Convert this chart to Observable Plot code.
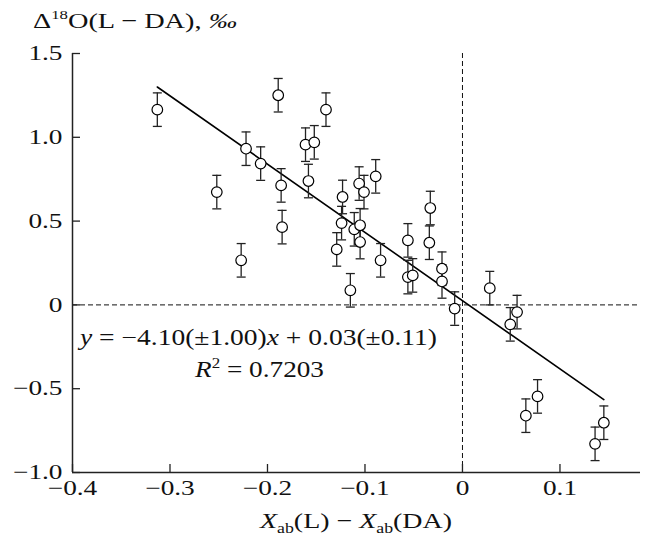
<!DOCTYPE html>
<html><head><meta charset="utf-8">
<script src="https://cdn.jsdelivr.net/npm/d3@7"></script>
<script src="https://cdn.jsdelivr.net/npm/@observablehq/plot@0.6"></script>
<style>body{margin:0;background:#fff;}</style>
</head><body><div id="chart"></div>
<script>
// data
const xDiff = [-0.313, -0.252, -0.227, -0.222, -0.207, -0.189, -0.186, -0.185, -0.161, -0.158, -0.152, -0.140, -0.129, -0.124, -0.123, -0.115, -0.111, -0.106, -0.105, -0.105, -0.101, -0.089, -0.084, -0.056, -0.056, -0.051, -0.033, -0.034, -0.021, -0.021, -0.008, 0.028, 0.049, 0.056, 0.065, 0.077, 0.136, 0.145];
const d18O = [1.165, 0.673, 0.266, 0.932, 0.843, 1.251, 0.713, 0.464, 0.956, 0.739, 0.970, 1.165, 0.331, 0.488, 0.644, 0.087, 0.451, 0.724, 0.475, 0.375, 0.673, 0.767, 0.266, 0.385, 0.166, 0.176, 0.578, 0.371, 0.216, 0.140, -0.022, 0.100, -0.116, -0.043, -0.661, -0.546, -0.829, -0.703];
const errBar = [0.1, 0.1, 0.1, 0.1, 0.1, 0.1, 0.1, 0.1, 0.1, 0.1, 0.1, 0.1, 0.1, 0.1, 0.1, 0.1, 0.1, 0.1, 0.1, 0.1, 0.1, 0.1, 0.1, 0.1, 0.1, 0.1, 0.1, 0.1, 0.1, 0.1, 0.1, 0.1, 0.1, 0.1, 0.1, 0.1, 0.1, 0.1];
const fitX = [-0.313, 0.145];
const fitY = [1.30, -0.565];
const xTicks = [-0.4, -0.3, -0.2, -0.1, 0, 0.1];
const yTicks = [-1, -0.5, 0, 0.5, 1, 1.5];

const pts = xDiff.map((x, i) => ({x, y: d18O[i], lo: d18O[i] - errBar[i], hi: d18O[i] + errBar[i]}));
const fit = fitX.map((x, i) => ({x, y: fitY[i]}));
const fmt = d => d === 0 ? "0" : d3.format(".1f")(d);
const capSymbol = {draw(ctx, size) { const r = Math.sqrt(size / Math.PI); ctx.moveTo(-r, 0); ctx.lineTo(r, 0); }};

const plot = Plot.plot({
  width: 646, height: 538,
  marginLeft: 72, marginRight: 6, marginTop: 53, marginBottom: 66,
  style: {fontFamily: "'Liberation Serif', 'Times New Roman', serif", fontSize: "21px", background: "#fff", color: "#111"},
  x: {domain: [-0.4, 0.1826]},
  y: {domain: [-1, 1.5]},
  marks: [
    Plot.ruleY([0], {strokeDasharray: "5,3", stroke: "#111"}),
    Plot.ruleX([0], {strokeDasharray: "5,3", stroke: "#111"}),
    Plot.ruleX([-0.4], {stroke: "#222", strokeWidth: 1.5}),
    Plot.ruleY([-1], {stroke: "#222", strokeWidth: 1.5}),
    Plot.axisX({ticks: xTicks, tickFormat: fmt, tickSize: -8, tickPadding: 16, label: null, stroke: "#222", strokeWidth: 1.3}),
    Plot.axisY({ticks: yTicks, tickFormat: fmt, tickSize: -8, tickPadding: 18, label: null, stroke: "#222", strokeWidth: 1.3}),
    Plot.line(fit, {x: "x", y: "y", stroke: "#000", strokeWidth: 1.6}),
    Plot.ruleX(pts, {x: "x", y1: "lo", y2: "hi", stroke: "#222", strokeWidth: 1.3}),
    Plot.dot(pts, {x: "x", y: "lo", symbol: capSymbol, r: 4.5, fill: "none", stroke: "#222", strokeWidth: 1.3}),
    Plot.dot(pts, {x: "x", y: "hi", symbol: capSymbol, r: 4.5, fill: "none", stroke: "#222", strokeWidth: 1.3}),
    Plot.dot(pts, {x: "x", y: "y", r: 5.3, fill: "#fff", stroke: "#000", strokeWidth: 1.2})
  ]
});
document.getElementById("chart").append(plot);
const svg = d3.select(plot);

// widen tick labels to match reference glyph proportions
svg.selectAll("text").each(function() {
  const L = this.getComputedTextLength();
  this.setAttribute("textLength", (L * 1.3).toFixed(1));
  this.setAttribute("lengthAdjust", "spacingAndGlyphs");
});

function addText(x, y, size, anchor, target, parts) {
  const t = svg.append("text").attr("x", x).attr("y", y)
    .attr("font-size", size).attr("text-anchor", anchor).attr("fill", "#111")
    .attr("font-family", "'Liberation Serif', 'Times New Roman', serif");
  for (const p of parts) {
    const s = t.append("tspan").text(p.t);
    if (p.i) s.attr("font-style", "italic");
    if (p.dy) s.attr("dy", p.dy);
    if (p.fs) s.attr("font-size", p.fs);
  }
  t.attr("textLength", target).attr("lengthAdjust", "spacingAndGlyphs");
}

addText(33, 28, 22, "start", 204, [
  {t: "Δ"}, {t: "18", dy: -9, fs: 13}, {t: "O(L − DA), ", dy: 9}, {t: "‰", i: true}
]);
addText(80, 345, 22.5, "start", 357, [
  {t: "y", i: true}, {t: " = −4.10(±1.00)"}, {t: "x", i: true}, {t: " + 0.03(±0.11)"}
]);
addText(195, 377, 22.5, "start", 129, [
  {t: "R", i: true}, {t: "2", dy: -9, fs: 14}, {t: " = 0.7203", dy: 9}
]);
addText(356, 528, 22, "middle", 192, [
  {t: "X", i: true}, {t: "ab", dy: 5, fs: 14}, {t: "(L) − ", dy: -5},
  {t: "X", i: true}, {t: "ab", dy: 5, fs: 14}, {t: "(DA)", dy: -5}
]);
</script>
</body></html>
